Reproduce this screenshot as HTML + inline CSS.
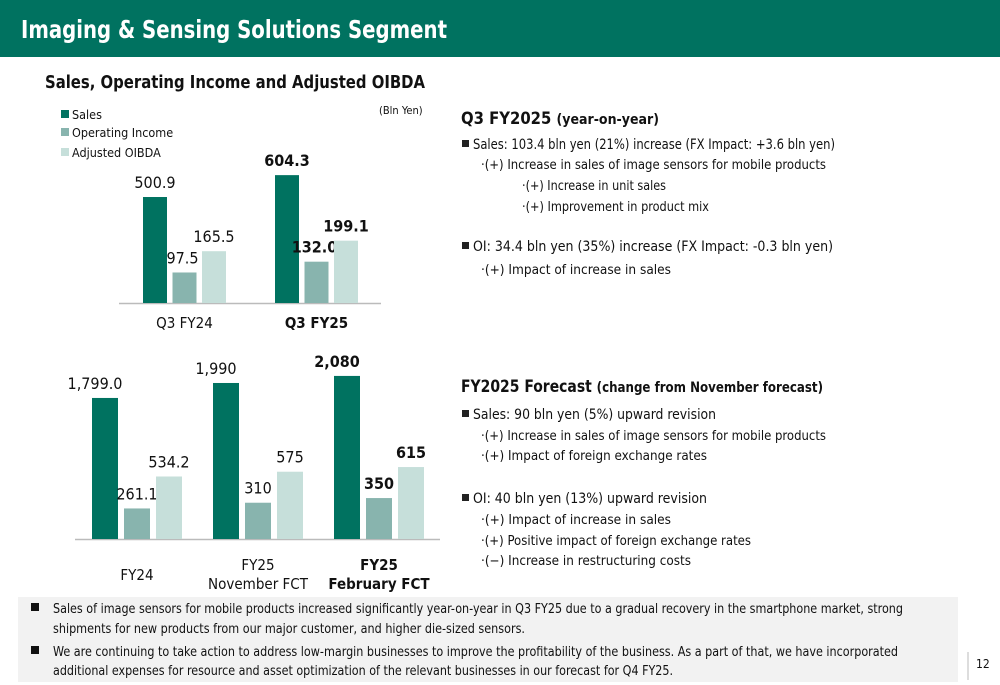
<!DOCTYPE html>
<html><head><meta charset="utf-8"><style>
body{margin:0;width:1000px;height:685px;overflow:hidden;background:#fff}
svg{display:block}
text{font-family:"DejaVu Sans Condensed","DejaVu Sans","Liberation Sans",sans-serif;fill:#111}
</style></head><body>
<svg id="s" width="1000" height="685" viewBox="0 0 1000 685">
<rect x="0" y="0" width="1000" height="57" fill="#007260"/>
<text x="21" y="38" font-size="25" font-weight="bold" style="fill:#fff" textLength="426" lengthAdjust="spacingAndGlyphs">Imaging &amp; Sensing Solutions Segment</text>
<text x="45" y="88" font-size="18" font-weight="bold" textLength="380" lengthAdjust="spacingAndGlyphs">Sales, Operating Income and Adjusted OIBDA</text>
<g>
<rect x="61" y="110" width="8" height="8" fill="#007260"/>
<text x="72" y="119" font-size="12.5">Sales</text>
<rect x="61" y="128" width="8" height="8" fill="#88b4ae"/>
<text x="72" y="137" font-size="12.5">Operating Income</text>
<rect x="61" y="148" width="8" height="8" fill="#c6dfda"/>
<text x="72" y="157" font-size="12.5">Adjusted OIBDA</text>
</g>
<text x="379" y="114" font-size="11">(Bln Yen)</text>
<g id="c1"></g>
<g id="c2"></g>

<g font-size="14.5">
<text x="461" y="124" font-size="16.5" font-weight="bold">Q3 FY2025 <tspan font-size="14">(year-on-year)</tspan></text>
<rect x="462" y="140" width="7" height="7" fill="#222"/>
<text x="473" y="149" textLength="362" lengthAdjust="spacingAndGlyphs">Sales: 103.4 bln yen (21%) increase (FX Impact: +3.6 bln yen)</text>
<text x="481" y="169" font-size="13" textLength="345" lengthAdjust="spacingAndGlyphs">·(+) Increase in sales of image sensors for mobile products</text>
<text x="522" y="190" font-size="13" textLength="144" lengthAdjust="spacingAndGlyphs">·(+) Increase in unit sales</text>
<text x="522" y="211" font-size="13" textLength="187" lengthAdjust="spacingAndGlyphs">·(+) Improvement in product mix</text>
<rect x="462" y="242" width="7" height="7" fill="#222"/>
<text x="473" y="251" textLength="360" lengthAdjust="spacingAndGlyphs">OI: 34.4 bln yen (35%) increase (FX Impact: -0.3 bln yen)</text>
<text x="481" y="274" font-size="13" textLength="190" lengthAdjust="spacingAndGlyphs">·(+) Impact of increase in sales</text>
</g>
<g font-size="14.5">
<text x="461" y="392" font-size="16.5" font-weight="bold" textLength="362" lengthAdjust="spacingAndGlyphs">FY2025 Forecast <tspan font-size="14">(change from November forecast)</tspan></text>
<rect x="462" y="410" width="7" height="7" fill="#222"/>
<text x="473" y="419" textLength="243" lengthAdjust="spacingAndGlyphs">Sales: 90 bln yen (5%) upward revision</text>
<text x="481" y="440" font-size="13" textLength="345" lengthAdjust="spacingAndGlyphs">·(+) Increase in sales of image sensors for mobile products</text>
<text x="481" y="460" font-size="13" textLength="226" lengthAdjust="spacingAndGlyphs">·(+) Impact of foreign exchange rates</text>
<rect x="462" y="494" width="7" height="7" fill="#222"/>
<text x="473" y="503" textLength="234" lengthAdjust="spacingAndGlyphs">OI: 40 bln yen (13%) upward revision</text>
<text x="481" y="524" font-size="13" textLength="190" lengthAdjust="spacingAndGlyphs">·(+) Impact of increase in sales</text>
<text x="481" y="545" font-size="13" textLength="270" lengthAdjust="spacingAndGlyphs">·(+) Positive impact of foreign exchange rates</text>
<text x="481" y="565" font-size="13" textLength="210" lengthAdjust="spacingAndGlyphs">·(−) Increase in restructuring costs</text>
</g>
<rect x="18" y="597" width="940" height="85" fill="#f2f2f2"/>
<g font-size="13.5">
<rect x="31" y="603" width="8" height="8" fill="#111"/>
<text x="53" y="613" textLength="850" lengthAdjust="spacingAndGlyphs">Sales of image sensors for mobile products increased significantly year-on-year in Q3 FY25 due to a gradual recovery in the smartphone market, strong</text>
<text x="53" y="633" textLength="472" lengthAdjust="spacingAndGlyphs">shipments for new products from our major customer, and higher die-sized sensors.</text>
<rect x="31" y="646" width="8" height="8" fill="#111"/>
<text x="53" y="656" textLength="845" lengthAdjust="spacingAndGlyphs">We are continuing to take action to address low-margin businesses to improve the profitability of the business. As a part of that, we have incorporated</text>
<text x="53" y="675" textLength="620" lengthAdjust="spacingAndGlyphs">additional expenses for resource and asset optimization of the relevant businesses in our forecast for Q4 FY25.</text>
</g>
<line x1="968" y1="652" x2="968" y2="680" stroke="#bbb"/>
<text x="976" y="668" font-size="12">12</text>
</svg>
<script>
const NS='http://www.w3.org/2000/svg';
const colors=['#007260','#88b4ae','#c6dfda'];
// Quarter chart data
const qCategories=['Q3 FY24','Q3 FY25'];
const qSales=[500.9,604.3];
const qOI=[97.5,132.0];
const qOIBDA=[165.5,199.1];
const qLabels=[['500.9','97.5','165.5'],['604.3','132.0','199.1']];
// Annual chart data
const aCategories=[['FY24'],['FY25','November FCT'],['FY25','February FCT']];
const aSales=[1799.0,1990,2080];
const aOI=[261.1,310,350];
const aOIBDA=[534.2,575,615];
const aLabels=[['1,799.0','261.1','534.2'],['1,990','310','575'],['2,080','350','615']];

function el(p,tag,attrs){const e=document.createElementNS(NS,tag);for(const k in attrs)e.setAttribute(k,attrs[k]);p.appendChild(e);return e;}
function draw(g,o){
  // sales uses its own (compressed) scale; OI/OIBDA share another
  const y=(v,j)=>o.base-v*(j===0?o.k:o.k2);
  el(g,'line',{x1:o.ax0,x2:o.ax1,y1:o.base+0.5,y2:o.base+0.5,stroke:'#bbb','stroke-width':1.5});
  const series=[o.s,o.oi,o.ob];
  o.cats.forEach((c,i)=>{
    const bold=i===o.cats.length-1;
    series.forEach((arr,j)=>{
      const x=o.g0+i*o.gw+j*o.step;
      const yt=y(arr[i],j);
      const r=el(g,'rect',{x:x,y:yt,width:o.bw,height:o.base-yt,fill:colors[j]});
      
      
      const t=el(g,'text',{x:x+o.bw/2+o.lx[j],y:yt-9,'text-anchor':'middle','font-size':o.fs,'font-weight':bold?'bold':'normal'});
      t.textContent=o.labels[i][j];
      
      
    });
    const cx=o.g0+i*o.gw+o.step+o.bw/2;
    const lines=Array.isArray(c)?c:[c];
    lines.forEach((ln,k)=>{
      const t=el(g,'text',{x:cx,y:o.cy+k*19+(lines.length===1&&o.single?10:0),'text-anchor':'middle','font-size':15,'font-weight':bold?'bold':'normal'});
      t.textContent=ln;
      
      
    });
  });
}
draw(document.getElementById('c1'),{cats:qCategories,s:qSales,oi:qOI,ob:qOIBDA,labels:qLabels,base:303,k:0.2116,k2:0.313,g0:143,gw:132,step:29.5,bw:24,ax0:119,ax1:381,cy:328,fs:16,lx:[0,-2,0]});
draw(document.getElementById('c2'),{cats:aCategories,s:aSales,oi:aOI,ob:aOIBDA,labels:aLabels,base:539,k:0.0784,k2:0.117,g0:92,gw:121,step:32,bw:26,ax0:75,ax1:440,cy:570,fs:16,single:true,lx:[-10,0,0]});
</script>
</body></html>
